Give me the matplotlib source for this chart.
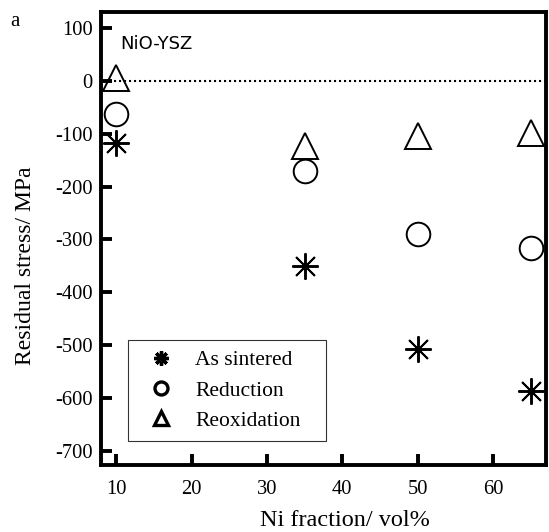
import matplotlib.pyplot as plt

# data
ni_fraction = [10, 35, 50, 65]
as_sintered = [-117, -350, -507, -587]
reduction = [-62, -170, -290, -316]
reoxidation = [5, -123, -104, -98]

plt.rcParams['font.family'] = ['Liberation Serif', 'DejaVu Serif']
plt.rcParams['axes.unicode_minus'] = False

fig = plt.figure(figsize=(5.49, 5.32), dpi=100)
ax = fig.add_axes([0.184, 0.126, 0.8105, 0.851])

ax.axhline(0, xmin=0.03, xmax=1, color='black', linestyle=(0, (1, 1.4)), linewidth=1.5, zorder=1)

ax.plot(ni_fraction, as_sintered, linestyle='none', marker=(8, 2, 0), markersize=19,
        markeredgewidth=1.4, color='black', label='As sintered')
ax.plot(ni_fraction, reduction, linestyle='none', marker='o', markersize=17,
        markerfacecolor='none', markeredgewidth=1.4, color='black', label='Reduction')
ax.plot(ni_fraction, reoxidation, linestyle='none', marker='^', markersize=19,
        markerfacecolor='none', markeredgewidth=1.4, color='black', label='Reoxidation')

ax.set_xlim(8, 67)
ax.set_ylim(-727, 130)
ax.set_xticks([10, 20, 30, 40, 50, 60])
ax.set_yticks(range(-700, 101, 100))

for side in ax.spines.values():
    side.set_linewidth(2.8)
ax.tick_params(direction='in', length=8, width=2.8, labelsize=14.8, pad=6)
ax.tick_params(axis='x', pad=11)

ax.set_xlabel('Ni fraction/ vol%', fontsize=17.5)
ax.xaxis.set_label_coords(0.548, -0.1)
ax.set_ylabel('Residual stress/ MPa', fontsize=17)
ax.yaxis.set_label_coords(-0.146, 0.44)

ax.text(0.043, 0.95, 'NiO-YSZ', transform=ax.transAxes, fontsize=13,
        family='DejaVu Sans', va='top', ha='left')
fig.text(0.018, 0.978, 'a', fontsize=15, va='top', ha='left')

leg = ax.legend(loc='lower left', bbox_to_anchor=(0.0607, 0.053, 0.445, 0.2), mode='expand',
                fontsize=15.5, markerscale=0.55, frameon=True, fancybox=False,
                edgecolor='black', borderpad=0.47, labelspacing=0.47, handlelength=2.1,
                handletextpad=0.55, borderaxespad=0)
leg.get_frame().set_linewidth(0.8)
for h in leg.legend_handles:
    h.set_markeredgewidth(2.4)

fig.savefig('out.png', dpi=100)
